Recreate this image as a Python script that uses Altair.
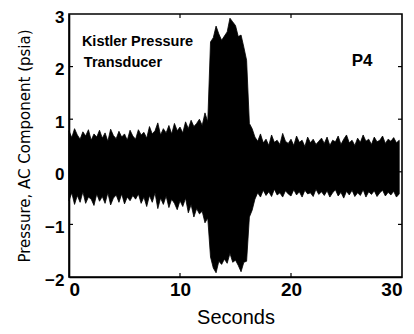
import altair as alt
import pandas as pd

step = 0.25
upper = [
    0.78, 0.65, 0.82, 0.70, 0.62, 0.76, 0.68, 0.80, 0.60, 0.72, 0.66, 0.79,
    0.64, 0.74, 0.58, 0.81, 0.69, 0.63, 0.77, 0.66, 0.72, 0.60, 0.79, 0.68,
    0.62, 0.80, 0.70, 0.75, 0.64, 0.86, 0.72, 0.78, 0.93, 0.70, 0.82, 0.74,
    0.88, 0.72, 0.92, 0.78, 0.85, 0.74, 0.95, 0.82, 0.98, 0.86, 0.92, 1.00,
    0.88, 1.12, 0.95,
    2.47, 2.55, 2.77, 2.62, 2.50, 2.58, 2.66, 2.92, 2.85, 2.78, 2.57, 2.60, 2.37, 2.12,
    0.92, 0.82, 0.66,
    0.58, 0.72, 0.55, 0.62, 0.50, 0.70, 0.56, 0.60, 0.52, 0.73, 0.58, 0.54,
    0.62, 0.50, 0.68, 0.56, 0.60, 0.48, 0.66, 0.55, 0.62, 0.52, 0.58, 0.64,
    0.54, 0.66, 0.50, 0.60, 0.57, 0.68, 0.52, 0.62, 0.70, 0.55, 0.60, 0.50,
    0.64, 0.56, 0.70, 0.58, 0.62, 0.52, 0.66, 0.57, 0.60, 0.68, 0.54, 0.62, 0.58, 0.65, 0.55, 0.60,
]
lower = [
    -0.55, -0.40, -0.62, -0.45, -0.58, -0.38, -0.60, -0.48, -0.52, -0.64, -0.42, -0.56,
    -0.47, -0.60, -0.40, -0.63, -0.50, -0.44, -0.58, -0.42, -0.61, -0.48, -0.55, -0.45,
    -0.52, -0.42, -0.60, -0.48, -0.66, -0.45, -0.58, -0.40, -0.70, -0.50, -0.62, -0.46,
    -0.68, -0.52, -0.60, -0.72, -0.55, -0.66, -0.50, -0.78, -0.62, -0.86, -0.70, -0.80,
    -0.75, -0.97, -0.88,
    -1.62, -1.83, -1.92, -1.70, -1.76, -1.66, -1.74, -1.55, -1.72, -1.68, -1.78, -1.90, -1.72, -1.70,
    -0.86, -0.73, -0.52,
    -0.40, -0.48, -0.35, -0.45, -0.38, -0.47, -0.33, -0.44, -0.40, -0.48, -0.36, -0.42,
    -0.46, -0.34, -0.44, -0.38, -0.48, -0.35, -0.42, -0.40, -0.47, -0.33, -0.43, -0.38,
    -0.45, -0.36, -0.48, -0.40, -0.34, -0.46, -0.39, -0.50, -0.37, -0.44, -0.35, -0.47,
    -0.40, -0.45, -0.34, -0.48, -0.38, -0.43, -0.36, -0.47, -0.40, -0.35, -0.46, -0.39, -0.44, -0.37, -0.48, -0.42,
]
times = [i * step for i in range(len(upper))]

x_ticks = [0, 10, 20, 30]
y_ticks = [-2, -1, 0, 1, 2, 3]
x_inner_ticks = [10, 20]
y_inner_ticks = [-1, 0, 1, 2]

notes_text = ["Kistler Pressure", "Transducer"]
notes_x = [6.17, 4.86]
notes_y = [2.47, 2.07]
tag_text = ["P4"]
tag_x = [26.4]
tag_y = [2.1]

W, H = 333, 263

df = pd.DataFrame({"t": times, "hi": upper, "lo": lower})
xs = alt.Scale(domain=[0, 30], nice=False, zero=False)
ys = alt.Scale(domain=[-2, 3], nice=False, zero=False)

x_axis = alt.Axis(
    values=x_ticks, title="Seconds", format="d", grid=False, ticks=False,
    labelPadding=3, titlePadding=8, labelFontSize=19, titleFontSize=20,
    labelFontWeight="bold", titleFontWeight="normal")
y_axis = alt.Axis(
    values=y_ticks, title="Pressure, AC Component (psia)", format="d", grid=False,
    ticks=False, labelPadding=5, labelOffset=3, titlePadding=12, labelFontSize=17,
    labelFontWeight="bold", titleFont="DejaVu Sans", titleFontSize=15,
    titleFontWeight="normal")

band = alt.Chart(df).mark_area(
    color="black", stroke="black", strokeWidth=0.8, interpolate="linear"
).encode(
    x=alt.X("t:Q", scale=xs, axis=x_axis),
    y=alt.Y("hi:Q", scale=ys, axis=y_axis),
    y2="lo:Q",
)

xt = pd.DataFrame({"v": x_inner_ticks})
yt = pd.DataFrame({"v": y_inner_ticks})
tick_bot = alt.Chart(xt).mark_rule(color="black", strokeWidth=1.2).encode(
    x=alt.X("v:Q", scale=xs, axis=x_axis), y=alt.value(H), y2=alt.value(H - 4))
tick_top = alt.Chart(xt).mark_rule(color="black", strokeWidth=1.2).encode(
    x=alt.X("v:Q", scale=xs, axis=x_axis), y=alt.value(0), y2=alt.value(4))
tick_left = alt.Chart(yt).mark_rule(color="black", strokeWidth=1.2).encode(
    y=alt.Y("v:Q", scale=ys, axis=y_axis), x=alt.value(0), x2=alt.value(4))
tick_right = alt.Chart(yt).mark_rule(color="black", strokeWidth=1.2).encode(
    y=alt.Y("v:Q", scale=ys, axis=y_axis), x=alt.value(W), x2=alt.value(W - 4))

notes = alt.Chart(pd.DataFrame({"txt": notes_text, "x": notes_x, "y": notes_y})).mark_text(
    font="Liberation Sans", fontSize=14.5, fontWeight="bold", color="black",
    align="center", baseline="middle"
).encode(x=alt.X("x:Q", scale=xs, axis=x_axis), y=alt.Y("y:Q", scale=ys, axis=y_axis), text="txt:N")

tag = alt.Chart(pd.DataFrame({"txt": tag_text, "x": tag_x, "y": tag_y})).mark_text(
    font="Liberation Sans", fontSize=17, fontWeight="bold", color="black",
    align="center", baseline="middle"
).encode(x=alt.X("x:Q", scale=xs, axis=x_axis), y=alt.Y("y:Q", scale=ys, axis=y_axis), text="txt:N")

chart = alt.layer(band, tick_bot, tick_top, tick_left, tick_right, notes, tag).properties(
    width=W, height=H,
    autosize=alt.AutoSizeParams(type="none"),
    padding={"left": 61, "top": 6, "right": 4, "bottom": 49},
    background="white",
).configure_view(
    stroke="black", strokeWidth=1.6
).configure_axis(
    labelFont="Liberation Sans", titleFont="Liberation Sans",
    labelColor="black", titleColor="black",
    domainColor="black", domainWidth=1.6,
)

chart.save("out.html", embed_options={"renderer": "svg", "actions": False})
